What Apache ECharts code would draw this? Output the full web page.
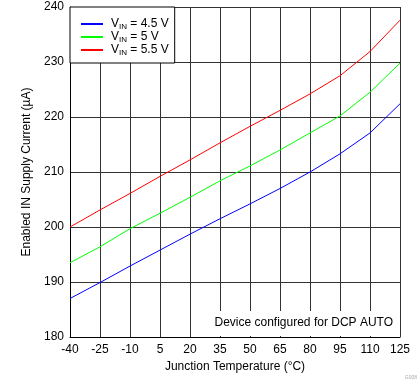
<!DOCTYPE html>
<html><head><meta charset="utf-8">
<script src="https://cdn.jsdelivr.net/npm/echarts@6/dist/echarts.min.js"></script>
<style>html,body{margin:0;padding:0;background:#fff}#c{width:419px;height:382px}</style>
</head><body><div id="c"></div>
<script>
var temps = [-40, -25, -10, 5, 20, 35, 50, 65, 80, 95, 110, 125];
var vin45 = [187.0, 189.9, 192.9, 195.8, 198.7, 201.5, 204.2, 207.0, 210.0, 213.3, 217.1, 222.4];
var vin5  = [193.5, 196.4, 199.7, 202.5, 205.4, 208.4, 211.1, 214.0, 217.1, 220.2, 224.5, 229.8];
var vin55 = [200.0, 203.1, 206.1, 209.2, 212.2, 215.3, 218.3, 221.2, 224.2, 227.5, 231.9, 237.6];
var seriesNames = ['4.5 V', '5 V', '5.5 V'];
var seriesColors = ['#0000ff', '#00ff00', '#ff0000'];
var xName = 'Junction Temperature (°C)';
var yName = 'Enabled IN Supply Current (µA)';
var note = 'Device configured for DCP AUTO';

function pairs(ys){ return temps.map(function(t,i){ return [t, ys[i]]; }); }
var FONT = 'Liberation Sans, Arial, sans-serif';
var chart = echarts.init(document.getElementById('c'), null, {renderer:'canvas'});
var allData = [vin45, vin5, vin55];
chart.setOption({
  animation: false,
  textStyle: {fontFamily: FONT},
  grid: {left: 70, right: 19, top: 7, bottom: 45, containLabel: false},
  xAxis: {
    type: 'value', min: -40, max: 125, interval: 15,
    name: xName, nameLocation: 'middle', nameGap: 20,
    nameTextStyle: {color: '#000', fontSize: 12, fontFamily: FONT},
    axisLine: {onZero: false, lineStyle: {color: '#000', width: 1}},
    axisTick: {show: false},
    axisLabel: {color: '#000', fontSize: 12, margin: 7, fontFamily: FONT},
    splitLine: {show: true, lineStyle: {color: '#333', width: 1}}
  },
  yAxis: {
    type: 'value', min: 180, max: 240, interval: 10,
    name: yName, nameLocation: 'middle', nameGap: 33,
    nameTextStyle: {color: '#000', fontSize: 12, fontFamily: FONT},
    axisLine: {onZero: false, lineStyle: {color: '#000', width: 1}},
    axisTick: {show: false},
    axisLabel: {color: '#000', fontSize: 12, margin: 6, fontFamily: FONT},
    splitLine: {show: true, lineStyle: {color: '#333', width: 1}}
  },
  legend: {
    orient: 'vertical', left: 70, top: 7,
    backgroundColor: '#fff', borderColor: '#000', borderWidth: 1, borderRadius: 0,
    padding: [11, 6, 6, 10], itemGap: 0, itemWidth: 22, itemHeight: 14,
    itemStyle: {opacity: 0},
    data: seriesNames,
    formatter: function(n){ return '{v|V}{s|IN}{v| = ' + n + '}'; },
    textStyle: {
      color: '#000', fontFamily: FONT, padding: [0,0,0,3],
      rich: {
        v: {fontSize: 12, color: '#000', fontFamily: FONT, lineHeight: 14},
        s: {fontSize: 8, color: '#000', fontFamily: FONT, padding: [6,0,0,0]}
      }
    }
  },
  title: [{
    text: note, right: 20, bottom: 46,
    backgroundColor: '#fff', padding: [6, 6, 7, 10],
    textStyle: {fontSize: 12, fontWeight: 'normal', color: '#000', fontFamily: FONT}
  },{
    text: 'G008', right: 2, bottom: 2, padding: 0,
    textStyle: {fontSize: 5, fontWeight: 'normal', color: '#aaa', fontFamily: FONT}
  }],
  series: seriesNames.map(function(n, i){
    return {
      name: n, type: 'line', data: pairs(allData[i]), symbol: 'none',
      lineStyle: {color: seriesColors[i], width: 1}, itemStyle: {color: seriesColors[i]},
      z: 3
    };
  })
});
</script></body></html>
